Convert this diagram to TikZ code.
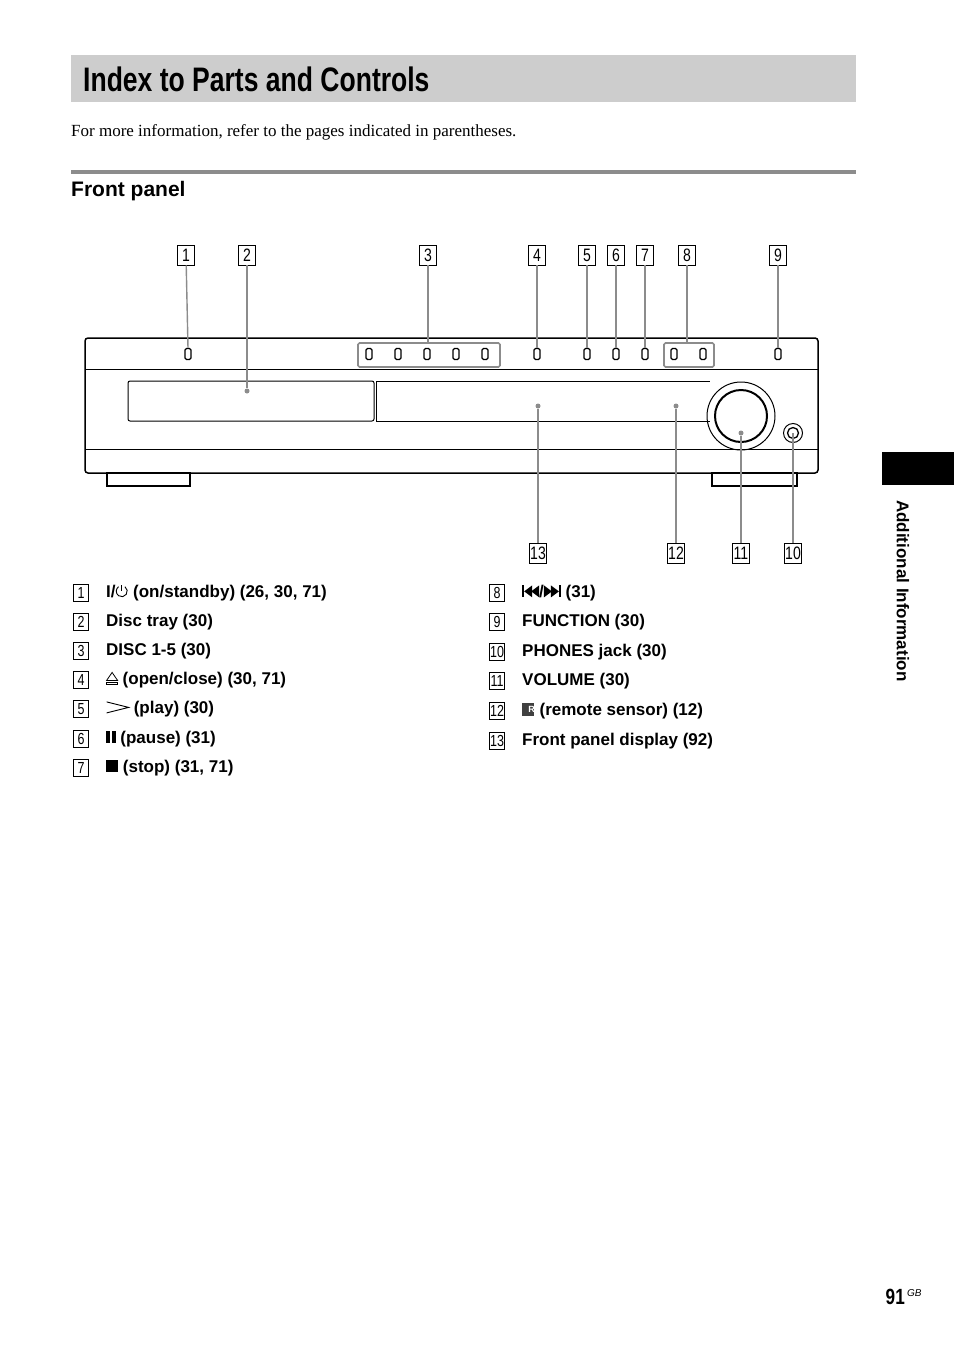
\documentclass[tikz,border=0pt]{standalone}
\usepackage{fontspec}
\setmainfont{Liberation Serif}
\setsansfont{Liberation Sans}
\newfontfamily\condfont[FakeStretch=0.78]{Liberation Sans}
\newfontfamily\symfont{DejaVu Sans}
\usetikzlibrary{positioning}
\definecolor{bargray}{RGB}{205, 205, 205}
\definecolor{linegray}{RGB}{140, 140, 140}

% small inline symbols
\newcommand{\powersym}{\tikz[x=1pt,y=1pt,baseline=0pt]{\draw[line width=0.9pt] (0,6.5)--(0,12.5); \draw[line width=0.9pt] (55:5.5) ++(0,6.5) arc[start angle=55,end angle=-235,radius=5.5];}}
\newcommand{\prevsym}{\tikz[x=1pt,y=1pt,baseline=0pt]{\fill (0,0) rectangle (2,12); \fill (2,6)--(10,12)--(10,0)--cycle; \fill (9,6)--(17,12)--(17,0)--cycle;}}
\newcommand{\nextsym}{\tikz[x=1pt,y=1pt,baseline=0pt]{\fill (0,0)--(8,6)--(0,12)--cycle; \fill (7,0)--(15,6)--(7,12)--cycle; \fill (15,0) rectangle (17,12);}}
\newcommand{\pausesym}{\tikz[x=1pt,y=1pt,baseline=0pt]{\fill (0,0) rectangle (3.5,12); \fill (6,0) rectangle (9.5,12);}}
\newcommand{\stopsym}{\tikz[x=1pt,y=1pt,baseline=0pt]{\fill (0,0) rectangle (12,12);}}
\newcommand{\playsym}{\tikz[x=1pt,y=1pt,baseline=0pt]{\draw[line width=0.9pt] (0,0.5)--(22,6)--(0,11.5);}}
\newcommand{\ejectsym}{\tikz[x=1pt,y=1pt,baseline=0pt]{\draw[line width=0.8pt] (0,4)--(5.5,12)--(11,4)--cycle; \draw[line width=0.8pt] (0,0) rectangle (11,2);}}
\newcommand{\remotesym}{\tikz[x=1pt,y=1pt,baseline=0pt]{\fill[black!75] (0,0) rectangle (12,13); \node[white,font=\sffamily\bfseries\fontsize{9}{9}\selectfont,inner sep=0] at (6,6.5) {R};}}

\begin{document}
\begin{tikzpicture}[x=1pt, y=-1pt,
    numbox/.style={draw, line width=0.7pt, inner sep=0pt, minimum width=17pt, minimum height=20pt, font=\condfont\fontsize{18}{18}\selectfont},
    smallbox/.style={draw, line width=0.6pt, inner sep=0pt, minimum width=15pt, minimum height=17pt, font=\condfont\fontsize{16}{16}\selectfont},
    btn/.style={draw, line width=1.1pt, rounded corners=1.5pt, minimum width=6pt, minimum height=11pt, inner sep=0pt},
    group/.style={draw=linegray, line width=1.6pt, rounded corners=1.5pt},
    leader/.style={draw=linegray, line width=1.4pt},
    dot/.style={circle, fill=linegray, inner sep=0pt, minimum size=5pt},
    item/.style={anchor=west, inner sep=0pt, font=\sffamily\bfseries\fontsize{17}{17}\selectfont}
  ]
  \useasboundingbox (0,0) rectangle (954,1352);

  % heading
  \fill[bargray] (71,55) rectangle (856,102);
  \node[anchor=west, inner sep=0pt, font=\condfont\bfseries\fontsize{34}{34}\selectfont] (title) at (83,79) {Index to Parts and Controls};
  \node[anchor=west, inner sep=0pt, font=\fontsize{17}{17}\selectfont] (intro) at (71,132) {For more information, refer to the pages indicated in parentheses.};
  \fill[linegray] (71,170) rectangle (856,174);
  \node[anchor=west, inner sep=0pt, font=\sffamily\bfseries\fontsize{21}{21}\selectfont] (front) at (71,191) {Front panel};

  % side tab
  \fill (882,452) rectangle (954,485);
  \node[rotate=-90, anchor=west, inner sep=0pt, font=\sffamily\bfseries\fontsize{17}{17}\selectfont] (tab) at (903,500) {Additional Information};
  \node[anchor=east, inner sep=0pt, font=\condfont\bfseries\fontsize{22}{22}\selectfont] (page) at (905,1297) {91};
  \node[anchor=west, inner sep=0pt, font=\sffamily\itshape\fontsize{10}{10}\selectfont] (gb) at (907,1293) {GB};

  % unit body
  \draw[line width=1.5pt, rounded corners=3pt] (85,338) rectangle (818,473);
  \draw[line width=1pt] (85,369) -- (818,369);
  \draw[line width=1pt] (85,449) -- (818,449);
  \draw[line width=1pt, rounded corners=2pt] (128,381) rectangle (374,421);
  \draw[line width=1pt] (376,381) -- (710,381);
  \draw[line width=1pt] (376,381) -- (376,421) -- (710,421);
  \draw[line width=1.3pt] (107,473) rectangle (190,486);
  \draw[line width=1.3pt] (712,473) rectangle (797,486);
  \draw[line width=1pt] (741,416) circle (34);
  \node[draw, line width=2pt, circle, minimum size=52pt] (knob) at (741,416) {};
  \node[draw, line width=1pt, circle, minimum size=19pt] (jackring) at (793,433) {};
  \node[draw, line width=1.3pt, circle, minimum size=11pt] (jack) at (793,433) {};

  % buttons
  \foreach \x/\name in {188/b1, 369/d1, 398/d2, 427/d3, 456/d4, 485/d5, 537/b4, 587/b5, 616/b6, 645/b7, 674/s1, 703/s2, 778/b9}
    \node[btn] (\name) at (\x,354) {};
  \draw[group] (358,343) rectangle (500,367);
  \coordinate (g3) at (428,343);
  \draw[group] (664,343) rectangle (714,367);
  \coordinate (g8) at (687,343);

  % dots
  \node[dot] (p2) at (247,391) {};
  \node[dot] (p13) at (538,406) {};
  \node[dot] (p12) at (676,406) {};
  \node[dot] (p11) at (741,433) {};

  % callout numbers
  \foreach \x/\n in {186/1, 247/2, 428/3, 537/4, 587/5, 616/6, 645/7, 687/8, 778/9}
    \node[numbox] (n\n) at (\x,255) {\n};
  \foreach \x/\n in {538/13, 676/12, 741/11, 793/10}
    \node[numbox] (n\n) at (\x,553) {\n};

  \draw[leader] (n1) -- (b1.north);
  \draw[leader] (n2) -- (p2);
  \draw[leader] (n3) -- (g3);
  \draw[leader] (n4) -- (b4.north);
  \draw[leader] (n5) -- (b5.north);
  \draw[leader] (n6) -- (b6.north);
  \draw[leader] (n7) -- (b7.north);
  \draw[leader] (n8) -- (g8);
  \draw[leader] (n9) -- (b9.north);
  \draw[leader] (n13) -- (p13);
  \draw[leader] (n12) -- (p12);
  \draw[leader] (n11) -- (p11);
  \draw[leader] (n10) -- (jack.center);

  % list of parts
  \foreach \n/\y/\txt in {1/593/{\textbf{I}/\powersym{} (on/standby) (26, 30, 71)},
                          2/622/{Disc tray (30)},
                          3/651/{DISC 1-5 (30)},
                          4/680/{\ejectsym{} (open/close) (30, 71)},
                          5/709/{\playsym{} (play) (30)},
                          6/739/{\pausesym{} (pause) (31)},
                          7/768/{\stopsym{} (stop) (31, 71)}} {
    \node[smallbox] (l\n) at (81,\y) {\n};
    \node[item] (t\n) at (106,\y) {\txt};
  }
  \foreach \n/\y/\txt in {8/593/{\prevsym/\nextsym{} (31)},
                          9/622/{FUNCTION (30)},
                          10/652/{PHONES jack (30)},
                          11/681/{VOLUME (30)},
                          12/711/{\remotesym{} (remote sensor) (12)},
                          13/741/{Front panel display (92)}} {
    \node[smallbox] (l\n) at (497,\y) {\n};
    \node[item] (t\n) at (522,\y) {\txt};
  }
\end{tikzpicture}
\end{document}
